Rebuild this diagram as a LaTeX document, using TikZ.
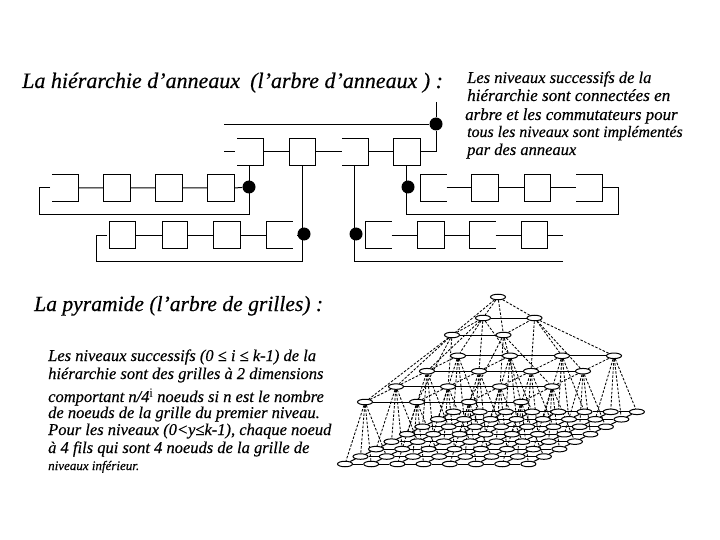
\documentclass[tikz,border=0pt]{standalone}
\usepackage{fontspec}
\setmainfont{Liberation Serif}
\newfontfamily\heavyital[ItalicFeatures={FakeBold=0.35}]{Liberation Serif}
\usetikzlibrary{backgrounds,shapes.geometric}
\newcommand{\fs}[1]{\fontsize{#1}{18}\selectfont\heavyital\itshape}
\tikzset{
  wire/.style={line width=1pt,black},
  rbox/.style={draw,line width=1pt,minimum width=26.5pt,minimum height=27pt,inner sep=0pt,outer sep=0pt},
  obox/.style={minimum width=26.5pt,minimum height=27pt,inner sep=0pt,outer sep=0pt},
  sw/.style={circle,fill=black,minimum size=13pt,inner sep=0pt},
  ttl/.style={anchor=base west,inner sep=0pt,font=\fs{22}},
  txt/.style={anchor=base west,inner sep=0pt,font=\fs{16.5}},
  pn/.style={draw,ellipse,fill=white,line width=1pt,minimum width=15pt,minimum height=5.5pt,inner sep=0pt},
  pedge/.style={line width=1pt},
  pdash/.style={line width=.85pt,dash pattern=on 2.5pt off 1.6pt},
}
\newcommand{\openL}[1]{\draw[wire] (#1.north west)--(#1.north east)--(#1.south east)--(#1.south west);}
\newcommand{\openR}[1]{\draw[wire] (#1.north east)--(#1.north west)--(#1.south west)--(#1.south east);}
\begin{document}
\begin{tikzpicture}[x=1pt,y=-1pt]
\useasboundingbox (0,0) rectangle (720,540);
% texts
\node[ttl] (t1) at (22,88) {La hiérarchie d’anneaux};
\node[ttl] (t2) at (250,88) {(l’arbre d’anneaux ) :};
\node[ttl,font=\fs{21.6}] (t3) at (34,311) {La pyramide (l’arbre de grilles) :};
\node[txt] (r1) at (467,83) {Les niveaux successifs de la};
\node[txt,font=\fs{17.1}] (r2) at (467,101) {hiérarchie sont connectées en};
\node[txt,font=\fs{16.9}] (r3) at (465,120) {arbre et les commutateurs pour};
\node[txt,font=\fs{15.9}] (r4) at (467,137) {tous les niveaux sont implémentés};
\node[txt] (r5) at (467,155) {par des anneaux};
\node[txt] (l1) at (48,361) {Les niveaux successifs (0 ≤ i ≤ k-1) de la};
\node[txt] (l2) at (48,379) {hiérarchie sont des grilles à 2 dimensions};
\node[txt] (l3) at (48,402) {comportant n/4\raisebox{.55ex}{\upshape\fontsize{13}{14}\selectfont i} noeuds si n est le nombre};
\node[txt] (l4) at (48,418) {de noeuds de la grille du premier niveau.};
\node[txt] (l5) at (48,435) {Pour les niveaux (0<y≤k-1), chaque noeud};
\node[txt] (l6) at (48,453) {à 4 fils qui sont 4 noeuds de la grille de};
\node[txt,font=\fs{13}] (l7) at (48,470) {niveaux inférieur.};
% top ring
\node[obox] (a1) at (250.5,152) {};
\node[rbox] (a2) at (302.5,152) {};
\node[obox] (a3) at (355,152) {};
\node[rbox] (a4) at (407,152) {};
\openL{a1}\openL{a3}
\node[sw] (sa) at (436,124) {};
\coordinate (aup) at (436,102);
\coordinate (acorner) at (436,152);
\coordinate (ain) at (224,125);
\coordinate (astub) at (224,152);
\coordinate (astubb) at (235,152);
\draw[wire] (aup)--(sa)--(acorner)--(a4.east);
\draw[wire] (ain)--(sa.west|-ain);
\draw[wire] (astub)--(astubb);
\draw[wire] (a1.east)--(a2.west) (a2.east)--(a3.west) (a3.east)--(a4.west);
% left ring
\node[obox] (b1) at (65,188) {};
\node[rbox] (b2) at (117,188) {};
\node[rbox] (b3) at (169,188) {};
\node[rbox] (b4) at (221,188) {};
\openL{b1}
\node[sw] (sb) at (249,187) {};
\coordinate (bdn) at (249.5,214.5);
\coordinate (bl) at (39.5,214.5);
\coordinate (blu) at (39.5,188);
\coordinate (ble) at (50,188);
\draw[wire] (b1.east)--(b2.west) (b2.east)--(b3.west) (b3.east)--(b4.west) (b4.east)--(sb);
\draw[wire] (ble)--(blu)--(bl)--(bdn)--(bdn|-a1.south);
% second ring
\node[rbox] (c1) at (122.25,235) {};
\node[rbox,minimum width=25pt] (c2) at (175,235) {};
\node[rbox] (c3) at (227,235) {};
\node[obox] (c4) at (279.25,235) {};
\openR{c4}
\node[sw] (sc) at (304,234) {};
\coordinate (cdn) at (302.5,261);
\coordinate (cl) at (96.5,261);
\coordinate (clu) at (96.5,235);
\coordinate (cle) at (107,235);
\coordinate (cst) at (298,235);
\draw[wire] (c1.east)--(c2.west) (c2.east)--(c3.west) (c3.east)--(c4.west);
\draw[wire] (cst)--(sc.west|-cst);
\draw[wire] (cle)--(clu)--(cl)--(cdn)--(a2.south);
% third ring
\node[obox] (d1) at (378.25,235) {};
\node[rbox] (d2) at (430.75,235) {};
\node[obox] (d3) at (482.25,235) {};
\node[rbox] (d4) at (534.5,235) {};
\openR{d1}\openR{d3}
\node[sw] (sd) at (356,234) {};
\coordinate (ddn) at (354,261);
\coordinate (dend) at (563,261);
\coordinate (dst) at (563,235);
\draw[wire] (d1.east)--(d2.west) (d2.east)--(d3.west) (d3.east)--(d4.west) (d4.east)--(dst);
\draw[wire] (dend)--(ddn)--(ddn|-a3.south);
% fourth ring
\node[obox] (e1) at (433.25,188) {};
\node[rbox] (e2) at (485,188) {};
\node[rbox] (e3) at (537.5,188) {};
\node[obox] (e4) at (589.25,188) {};
\openR{e1}\openL{e4}
\node[sw] (se) at (408,187) {};
\coordinate (edn) at (406.5,214.5);
\coordinate (er) at (618.5,214.5);
\coordinate (eru) at (618.5,188);
\draw[wire] (e1.east)--(e2.west) (e2.east)--(e3.west) (e3.east)--(e4.west);
\draw[wire] (e4.east)--(eru)--(er)--(edn)--(edn|-a4.south);
% pyramid nodes
\foreach \r in {7,6,...,0}{\foreach \c in {0,...,7}{
  \pgfmathsetmacro{\px}{345+26.2*\c+15.5*\r}
  \pgfmathsetmacro{\py}{464-7.45*\r}
  \node[pn] (p\c-\r) at (\px,\py) {};
}}
\foreach \r in {3,2,1,0}{\foreach \c in {0,...,3}{
  \pgfmathsetmacro{\px}{365+52*\c+31*\r}
  \pgfmathsetmacro{\py}{402-15.4*\r}
  \node[pn] (q\c-\r) at (\px,\py) {};
}}
\foreach \r in {1,0}{\foreach \c in {0,1}{
  \pgfmathsetmacro{\px}{452+51.5*\c+31*\r}
  \pgfmathsetmacro{\py}{335-17*\r}
  \node[pn] (u\c-\r) at (\px,\py) {};
}}
\node[pn] (top) at (498,297) {};
\begin{pgfonlayer}{background}
% bottom grid
\foreach \r in {0,...,7}{\foreach \c [evaluate=\c as \n using int(\c+1)] in {0,...,6}{
  \draw[pedge] (p\c-\r)--(p\n-\r);
  \draw[pedge] (p\r-\c)--(p\r-\n);
}}
% level 2 grid
\foreach \r in {0,...,3}{\foreach \c [evaluate=\c as \n using int(\c+1)] in {0,1,2}{
  \draw[pedge] (q\c-\r)--(q\n-\r);
  \draw[pdash] (q\r-\c)--(q\r-\n);
}}
% level 1 grid
\draw[pedge] (u0-0)--(u1-0) (u0-1)--(u1-1);
\draw[pdash] (u0-0)--(u0-1) (u1-0)--(u1-1);
% top links
\foreach \c in {0,1}{\foreach \r in {0,1}{\draw[pdash] (top)--(u\c-\r);}}
% level 1 to level 2
\foreach \c in {0,1}{\foreach \r in {0,1}{
  \foreach \i in {0,1}{\foreach \j in {0,1}{
    \pgfmathtruncatemacro{\cc}{2*\c+\i}
    \pgfmathtruncatemacro{\rr}{2*\r+\j}
    \draw[pdash] (u\c-\r)--(q\cc-\rr);
  }}
}}
% level 2 to bottom
\foreach \c in {0,...,3}{\foreach \r in {0,...,3}{
  \foreach \i in {0,1}{\foreach \j in {0,1}{
    \pgfmathtruncatemacro{\cc}{2*\c+\i}
    \pgfmathtruncatemacro{\rr}{2*\r+\j}
    \draw[pdash] (q\c-\r)--(p\cc-\rr);
  }}
}}
\end{pgfonlayer}
\end{tikzpicture}
\end{document}
